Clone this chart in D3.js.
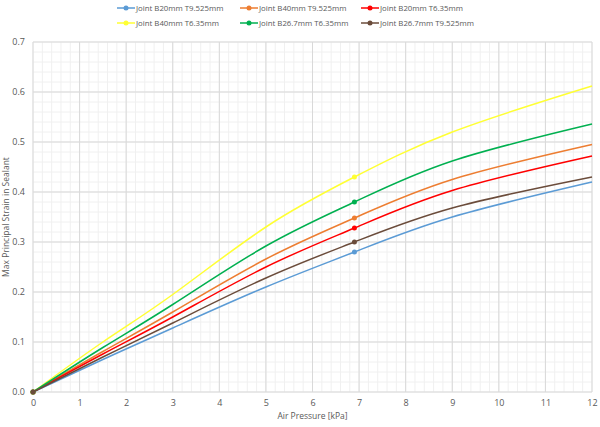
<!DOCTYPE html>
<html><head><meta charset="utf-8">
<script src="https://cdn.jsdelivr.net/npm/d3@7"></script>
<style>body{margin:0;background:#fff}text{font-family:"Open Sans",sans-serif}</style>
</head><body>
<script>
const pressure = [0, 1.5, 3, 5, 6.9, 9, 12];
const seriesNames = ['Joint B20mm T9.525mm', 'Joint B40mm T9.525mm', 'Joint B20mm T6.35mm',
  'Joint B40mm T6.35mm', 'Joint B26.7mm T6.35mm', 'Joint B26.7mm T9.525mm'];
const colors = ['#5b9bd5', '#ed7d31', '#ff0000', '#ffff33', '#00b050', '#6b4c3b'];
const blueVals   = [0, 0.065, 0.128, 0.21, 0.28, 0.35, 0.42];
const orangeVals = [0, 0.081, 0.160, 0.266, 0.348, 0.425, 0.495];
const redVals    = [0, 0.076, 0.150, 0.250, 0.328, 0.403, 0.472];
const yellowVals = [0, 0.100, 0.195, 0.330, 0.430, 0.520, 0.612];
const greenVals  = [0, 0.089, 0.175, 0.292, 0.380, 0.462, 0.536];
const brownVals  = [0, 0.070, 0.138, 0.228, 0.300, 0.368, 0.430];
const allVals = [blueVals, orangeVals, redVals, yellowVals, greenVals, brownVals];
const markerAt = [0, 6.9];
const xTicks = d3.range(0, 13, 1);
const yTicks = d3.range(0, 0.71, 0.1);

const width = 600, height = 427;
const m = {left: 33, right: 8, top: 42, bottom: 35};
const svg = d3.select('body').append('svg').attr('width', width).attr('height', height);
const x = d3.scaleLinear().domain([0, 12]).range([m.left, width - m.right]);
const y = d3.scaleLinear().domain([0, 0.7]).range([height - m.bottom, m.top]);

// minor grid
svg.append('g').selectAll('line').data(d3.range(0, 12.01, 0.2)).enter().append('line')
  .attr('x1', d => x(d)).attr('x2', d => x(d)).attr('y1', y(0)).attr('y2', y(0.7))
  .style('stroke', '#f0f0f0');
svg.append('g').selectAll('line').data(d3.range(0, 0.701, 0.02)).enter().append('line')
  .attr('x1', x(0)).attr('x2', x(12)).attr('y1', d => y(d)).attr('y2', d => y(d))
  .style('stroke', '#f0f0f0');
// major grid
svg.append('g').selectAll('line').data(xTicks).enter().append('line')
  .attr('x1', d => x(d)).attr('x2', d => x(d)).attr('y1', y(0)).attr('y2', y(0.7))
  .style('stroke', '#d9d9d9');
svg.append('g').selectAll('line').data(yTicks).enter().append('line')
  .attr('x1', x(0)).attr('x2', x(12)).attr('y1', d => y(d)).attr('y2', d => y(d))
  .style('stroke', '#d9d9d9');

const xAxis = svg.append('g').attr('transform', `translate(0,${y(0)})`)
  .call(d3.axisBottom(x).tickValues(xTicks).tickSize(0).tickPadding(8));
const yAxis = svg.append('g').attr('transform', `translate(${x(0)},0)`)
  .call(d3.axisLeft(y).tickValues(yTicks).tickFormat(d3.format('.1f')).tickSize(0).tickPadding(8));
[xAxis, yAxis].forEach(a => {
  a.select('.domain').remove();
  a.selectAll('text').style('font-size', '9px').style('fill', '#595959');
});

svg.append('text').attr('x', x(6)).attr('y', 419).attr('text-anchor', 'middle')
  .style('font-size', '8.5px').style('fill', '#595959').text('Air Pressure [kPa]');
svg.append('text').attr('transform', `translate(9,${y(0.35)}) rotate(-90)`).attr('text-anchor', 'middle')
  .style('font-size', '8.5px').style('fill', '#595959').text('Max Principal Strain in Sealant');

const line = d3.line().x(d => x(d[0])).y(d => y(d[1])).curve(d3.curveNatural);
allVals.forEach((vals, i) => {
  const pts = pressure.map((p, j) => [p, vals[j]]);
  svg.append('path').attr('d', line(pts)).style('fill', 'none')
    .style('stroke', colors[i]).style('stroke-width', 1.5);
  svg.append('g').selectAll('circle').data(pts.filter(d => markerAt.includes(d[0]))).enter()
    .append('circle').attr('cx', d => x(d[0])).attr('cy', d => y(d[1])).attr('r', 2.5)
    .style('fill', colors[i]);
});

// legend
const legX = [117, 240, 361], legY = [8, 23];
seriesNames.forEach((n, i) => {
  const g = svg.append('g').attr('transform', `translate(${legX[i % 3]},${legY[Math.floor(i / 3)]})`);
  g.append('line').attr('x1', 0).attr('x2', 18).style('stroke', colors[i]).style('stroke-width', 1.5);
  g.append('circle').attr('cx', 9).attr('r', 2.5).style('fill', colors[i]);
  g.append('text').attr('x', 19).attr('y', 3).style('font-size', '7.8px').style('fill', '#595959').text(n);
});
</script>
</body></html>
